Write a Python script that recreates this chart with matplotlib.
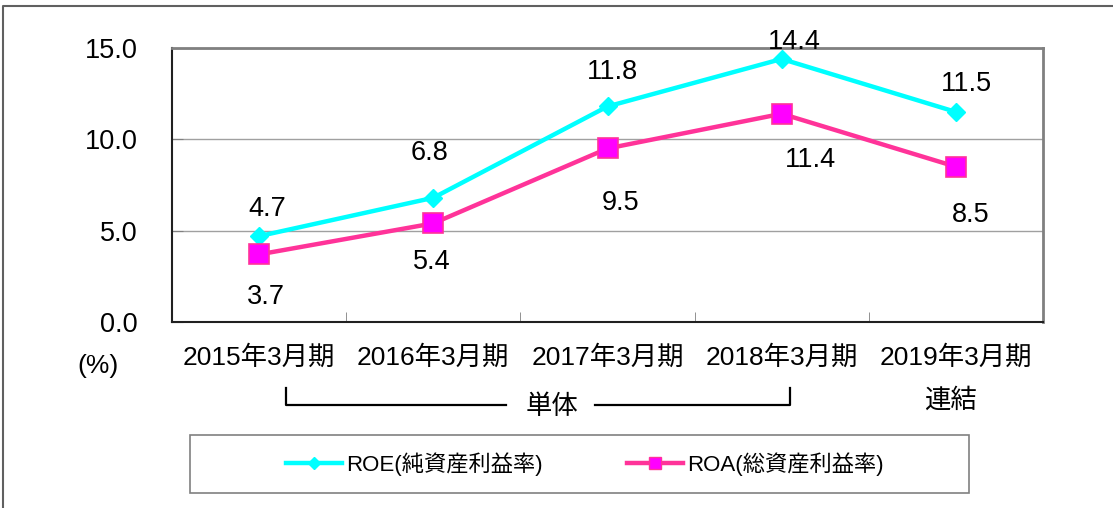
import matplotlib.pyplot as plt
from matplotlib.lines import Line2D
from matplotlib.patches import Rectangle

plt.rcParams['font.family'] = ['Liberation Sans', 'Noto Sans CJK JP']

# Data
periods = ['2015年3月期', '2016年3月期', '2017年3月期', '2018年3月期', '2019年3月期']
roe = [4.7, 6.8, 11.8, 14.4, 11.5]
roa = [3.7, 5.4, 9.5, 11.4, 8.5]
roe_label = 'ROE(純資産利益率)'
roa_label = 'ROA(総資産利益率)'

# label offsets in pixels (hand placed in the original)
roe_off = [(8, 27), (-4, 45), (5, 34), (13, 17), (11, 28)]
roa_off = [(7, -43), (-2, -39), (13, -55), (29, -46), (15, -48)]

W, H = 1113, 508
fig = plt.figure(figsize=(W / 100, H / 100), dpi=100)
ax = fig.add_axes([172 / W, 1 - 322 / H, (1043 - 172) / W, (322 - 48) / H])

x = list(range(len(periods)))
ax.plot(x, roe, color='#00FFFF', lw=3.2, marker='D', ms=9.5,
        mfc='#00FFFF', mec='#00FFFF', zorder=3)
ax.plot(x, roa, color='#FF3399', lw=3.2, marker='s', ms=14,
        mfc='#FF00FF', mec='#FF3399', mew=1.2, zorder=3)

for xi, v, (dx, dy) in zip(x, roe, roe_off):
    ax.annotate(f'{v:.1f}', (xi, v), xytext=(dx, dy), textcoords='offset pixels',
                ha='center', va='center', fontsize=19.5, clip_on=False)
for xi, v, (dx, dy) in zip(x, roa, roa_off):
    ax.annotate(f'{v:.1f}', (xi, v), xytext=(dx, dy), textcoords='offset pixels',
                ha='center', va='center', fontsize=19.5, clip_on=False)

ax.set_xlim(-0.5, len(periods) - 0.5)
ax.set_ylim(0, 15)
ax.set_yticks([0, 5, 10, 15])
ax.set_yticklabels([f'{t:.1f}' for t in [0, 5, 10, 15]], fontsize=19.5)
ax.set_xticks(x)
ax.set_xticklabels(periods, fontsize=19)
ax.set_xticks([i + 0.5 for i in x[:-1]], minor=True)
ax.tick_params(axis='x', which='major', length=0, pad=17)
ax.tick_params(axis='x', which='minor', direction='in', length=7, color='#808080')
ax.tick_params(axis='y', direction='in', length=8, color='#808080', pad=25)
ax.grid(axis='y', color='#A0A0A0', lw=1)
ax.set_axisbelow(True)

for side in ['left', 'bottom']:
    ax.spines[side].set_color('#202020')
    ax.spines[side].set_linewidth(1.5)
for side in ['top', 'right']:
    ax.spines[side].set_color('#808080')
    ax.spines[side].set_linewidth(2)

# extra text and bracket
fig.text(98 / W, 1 - 366 / H, '(%)', ha='center', va='center', fontsize=19)
fig.text(552 / W, 1 - 407 / H, '単体', ha='center', va='center', fontsize=19)
fig.text(950 / W, 1 - 400 / H, '連結', ha='center', va='center', fontsize=19)
bk = dict(color='black', lw=1.6, transform=fig.transFigure)
fig.add_artist(Line2D([286 / W, 286 / W, 506 / W], [1 - 388 / H, 1 - 405 / H, 1 - 405 / H], **bk))
fig.add_artist(Line2D([595 / W, 790 / W, 790 / W], [1 - 405 / H, 1 - 405 / H, 1 - 388 / H], **bk))

# legend
fig.add_artist(Rectangle((190 / W, 1 - 493 / H), (969 - 190) / W, (493 - 435) / H,
                         transform=fig.transFigure, fill=False, ec='#808080', lw=1.2))
handles = [
    Line2D([], [], color='#00FFFF', lw=3.2, marker='D', ms=6, mfc='#00FFFF', mec='#00FFFF'),
    Line2D([], [], color='#FF3399', lw=3.2, marker='s', ms=8, mfc='#FF00FF', mec='#FF3399'),
]
fig.legend(handles, [roe_label, roa_label], loc='center',
           bbox_to_anchor=(585 / W, 1 - 464 / H), ncol=2, frameon=False,
           fontsize=16, handlelength=2.5, handletextpad=0.2, columnspacing=3.8)

# outer border (left and top only visible)
ob = dict(color='#606060', lw=1.5, transform=fig.transFigure)
fig.add_artist(Line2D([3 / W, 3 / W, 1112 / W], [0, 1 - 6 / H, 1 - 6 / H], **ob))

fig.savefig('out.png', dpi=100)
